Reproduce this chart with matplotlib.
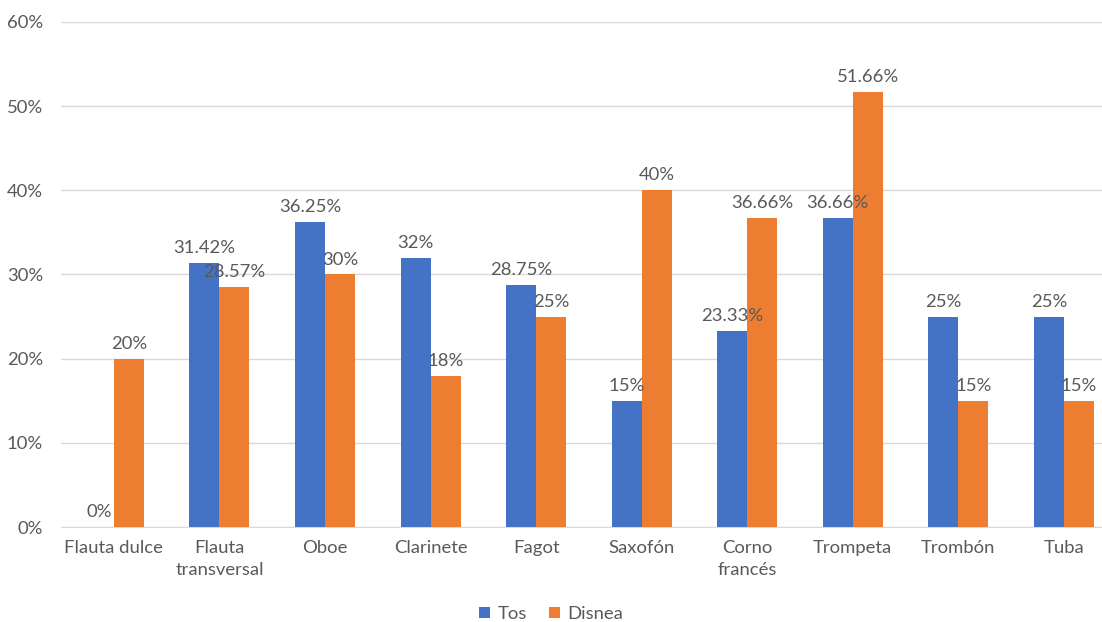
import numpy as np
import matplotlib.pyplot as plt
from matplotlib.ticker import FuncFormatter

# Datos por instrumento
instrumentos = ["Flauta dulce", "Flauta\ntransversal", "Oboe", "Clarinete", "Fagot",
                "Saxofón", "Corno\nfrancés", "Trompeta", "Trombón", "Tuba"]
tos = [0, 31.42, 36.25, 32, 28.75, 15, 23.33, 36.66, 25, 25]
disnea = [20, 28.57, 30, 18, 25, 40, 36.66, 51.66, 15, 15]

plt.rcParams['font.family'] = ['Lato', 'DejaVu Sans']
gris = '#595959'
tam = 13.3

fig = plt.figure(figsize=(11.02, 6.22), dpi=100)
ax = fig.add_axes([0.0554, 0.1527, 0.958, 0.812])

x = np.arange(len(instrumentos))
ancho = 0.284
b1 = ax.bar(x - ancho / 2, tos, ancho, color='#4472C4', label='Tos', zorder=3)
b2 = ax.bar(x + ancho / 2, disnea, ancho, color='#ED7D31', label='Disnea', zorder=3)

# Etiquetas de valor sobre cada barra
for barras, valores in ((b1, tos), (b2, disnea)):
    for rect, v in zip(barras, valores):
        ax.annotate(f"{v:g}%", (rect.get_x() + rect.get_width() / 2, v),
                    xytext=(0, 5), textcoords='offset points',
                    ha='center', va='bottom', fontsize=tam, color=gris, zorder=4)

ax.set_xlim(-0.5, len(instrumentos) - 0.5)
ax.set_ylim(0, 60)
ax.set_yticks(np.arange(0, 61, 10))
ax.yaxis.set_major_formatter(FuncFormatter(lambda v, p: f"{v:.0f}%"))
ax.set_xticks(x)
ax.set_xticklabels(instrumentos, linespacing=1.5)
ax.tick_params(axis='both', length=0, labelsize=tam, colors=gris)
ax.tick_params(axis='x', pad=9)
ax.tick_params(axis='y', pad=13)
ax.grid(axis='y', color='#D9D9D9', linewidth=1, zorder=0)
for s in ('top', 'right', 'left'):
    ax.spines[s].set_visible(False)
ax.spines['bottom'].set_color('#D9D9D9')

fig.legend(handles=[b1, b2], loc='center', bbox_to_anchor=(0.5, 0.013),
           ncol=2, frameon=False, fontsize=tam, labelcolor=gris,
           handlelength=0.6, handleheight=0.6, handletextpad=0.4, columnspacing=1.2)

plt.savefig("out.png", dpi=100)
